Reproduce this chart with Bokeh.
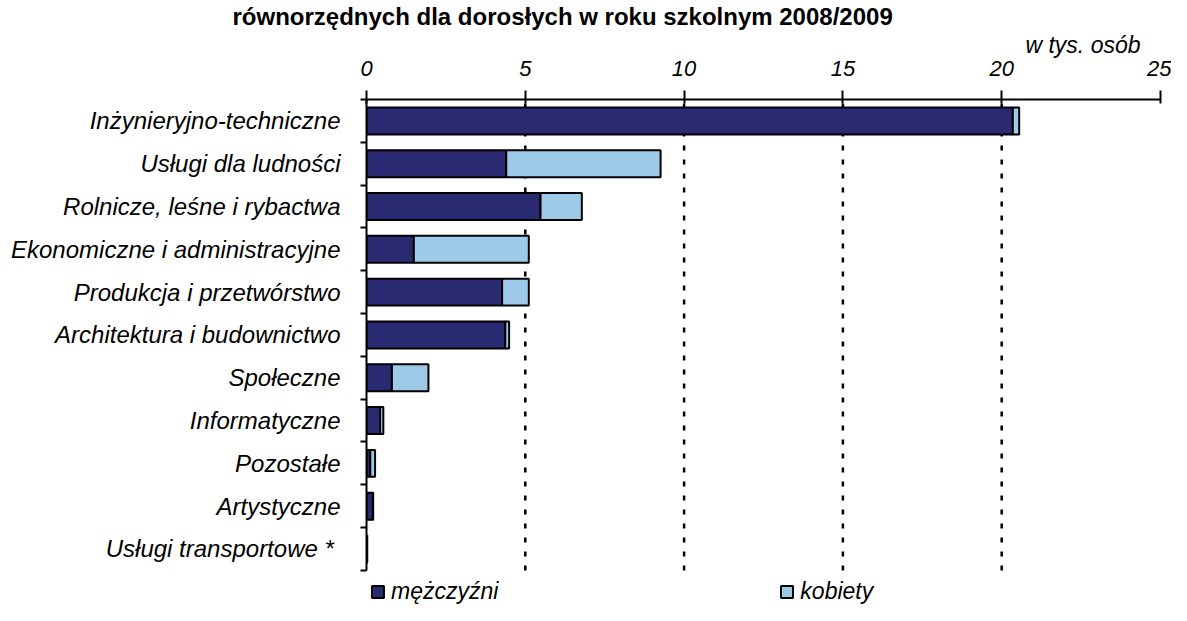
from bokeh.plotting import figure
from bokeh.models import (Range1d, FixedTicker, Legend, LegendItem, Title, ColumnDataSource)
from bokeh.embed import file_html
from bokeh.resources import INLINE

categories = ["Inżynieryjno-techniczne", "Usługi dla ludności", "Rolnicze, leśne i rybactwa",
              "Ekonomiczne i administracyjne", "Produkcja i przetwórstwo",
              "Architektura i budownictwo", "Społeczne", "Informatyczne", "Pozostałe",
              "Artystyczne", "Usługi  transportowe *"]
men = [20.35, 4.40, 5.48, 1.49, 4.27, 4.37, 0.80, 0.43, 0.12, 0.20, 0.02]
women = [0.20, 4.86, 1.30, 3.62, 0.84, 0.12, 1.15, 0.10, 0.15, 0.01, 0.0]
x_ticks = [0, 5, 10, 15, 20, 25]
grid_ticks = [5, 10, 15, 20]
series_names = ["mężczyźni", "kobiety"]
title_text = "równorzędnych dla dorosłych w roku szkolnym 2008/2009"
unit_text = "w tys. osób"

n = len(categories)
centers = [n - i - 0.5 for i in range(n)]
boundaries = list(range(n + 1))

src = ColumnDataSource(dict(y=centers, men=men, women=women, cat=categories))
grid_src = ColumnDataSource(dict(x=grid_ticks, y0=[0] * len(grid_ticks), y1=[n] * len(grid_ticks)))

FONT = "Liberation Sans"

p = figure(width=1171, height=605, output_backend="svg", toolbar_location=None,
           x_range=Range1d(0, 25), y_range=Range1d(-0.82, n), x_axis_location="above",
           min_border_left=366, min_border_right=11, min_border_top=99, min_border_bottom=0)
p.outline_line_color = None
p.background_fill_color = "white"
p.border_fill_color = "white"
p.xgrid.grid_line_color = None
p.ygrid.grid_line_color = None

# dotted vertical grid lines
p.segment(x0="x", y0="y0", x1="x", y1="y1", source=grid_src, line_color="black",
          line_width=2.5, line_dash="5 9")

rs = p.hbar_stack(["men", "women"], y="y", height=0.63, source=src,
                  color=["#2a2a72", "#9ecae9"], line_color="black", line_width=2)

# x axis (top)
xa = p.xaxis[0]
xa.ticker = FixedTicker(ticks=x_ticks)
xa.axis_line_width = 2
xa.axis_line_color = "black"
xa.major_tick_line_width = 2
xa.major_tick_line_color = "black"
xa.major_tick_out = 9
xa.major_tick_in = 4
xa.minor_tick_line_color = None
xa.major_label_text_font = FONT
xa.major_label_text_font_style = "italic"
xa.major_label_text_font_size = "22px"
xa.major_label_text_color = "black"
xa.major_label_standoff = 15

# y axis
ya = p.yaxis[0]
ya.bounds = (0, n)
ya.ticker = FixedTicker(ticks=centers, minor_ticks=boundaries)
ya.major_label_overrides = {c: cat for c, cat in zip(centers, categories)}
ya.axis_line_width = 2
ya.axis_line_color = "black"
ya.major_tick_out = 0
ya.major_tick_in = 0
ya.major_tick_line_color = None
ya.minor_tick_out = 6
ya.minor_tick_in = 0
ya.minor_tick_line_width = 2
ya.minor_tick_line_color = "black"
ya.major_label_text_font = FONT
ya.major_label_text_font_style = "italic"
ya.major_label_text_font_size = "24px"
ya.major_label_text_color = "black"
ya.major_label_standoff = 20

legend = Legend(items=[LegendItem(label=series_names[0], renderers=[rs[0]]),
                       LegendItem(label=series_names[1], renderers=[rs[1]])],
                orientation="horizontal", location=(4, 0), spacing=281,
                glyph_width=15, glyph_height=15, label_standoff=6, padding=2, margin=0,
                border_line_color=None, background_fill_alpha=0,
                label_text_font=FONT, label_text_font_style="italic",
                label_text_font_size="23px", label_text_color="black", label_height=20)
p.add_layout(legend, "center")

unit_title = Title(text=unit_text, align="right", offset=20, standoff=0,
                   text_font=FONT, text_font_style="italic", text_font_size="23px",
                   text_color="black")
p.add_layout(unit_title, "above")

p.title.text = title_text
p.title.align = "left"
p.title.offset = -134
p.title.text_font = FONT
p.title.text_font_style = "bold"
p.title.text_font_size = "24px"
p.title.text_color = "black"
p.title.standoff = 0

open("out.html", "w").write(file_html(p, INLINE))
